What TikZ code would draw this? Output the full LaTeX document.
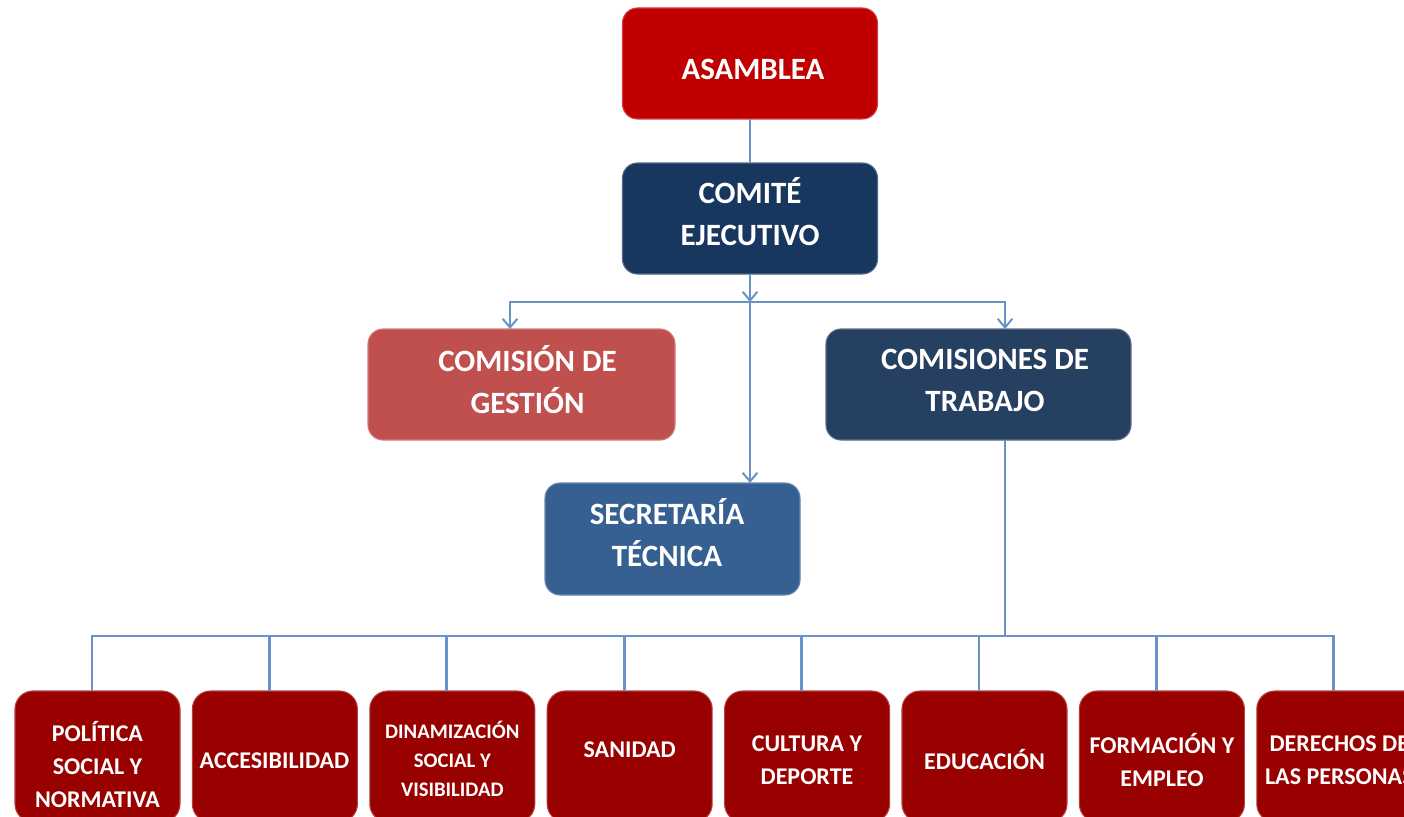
\documentclass[tikz,border=0pt]{standalone}
\usepackage{fontspec}
\setmainfont{Carlito}
\usetikzlibrary{arrows.meta,calc}
\newlength\pxu \setlength\pxu{0.75pt}
\definecolor{cAsam}{RGB}{192,0,0}
\definecolor{cComite}{RGB}{23,55,94}
\definecolor{cGest}{RGB}{192,80,77}
\definecolor{cTrab}{RGB}{37,64,97}
\definecolor{cSecre}{RGB}{54,96,146}
\definecolor{cBot}{RGB}{153,0,0}
\definecolor{cLine}{RGB}{104,146,201}
\begin{document}
\begin{tikzpicture}[x=0.75pt,y=-0.75pt,
  box/.style={rectangle, rounded corners=15\pxu, inner sep=0pt, outer sep=0pt, fill=#1, draw=#1!75!white, line width=0.8pt},
  bigbox/.style={box=#1, minimum width=255\pxu, minimum height=111\pxu},
  midbox/.style={box=#1, minimum height=111\pxu},
  botbox/.style={box=cBot, rounded corners=18\pxu, minimum width=165\pxu, minimum height=131\pxu},
  lbl/.style={text=white, align=center, inner sep=0pt, font=\bfseries\fontsize{23.25}{31.5}\selectfont},
  slbl/.style={text=white, align=center, inner sep=0pt, font=\bfseries\fontsize{18}{24.75}\selectfont},
  tlbl/.style={text=white, align=center, inner sep=0pt, font=\bfseries\fontsize{15.5}{22}\selectfont},
  conn/.style={draw=cLine, line width=2pt},
  arr/.style={conn, -{Straight Barb[length=6.5pt, width=11pt, line width=1.5pt]}}
]
\useasboundingbox (0,0) rectangle (1404,817);
\clip (0,0) rectangle (1404,817);

% top level boxes
\node[bigbox=cAsam] (asamblea) at (750,63.5) {};
\node[lbl] (tAsam) at (753,69) {ASAMBLEA};
\node[bigbox=cComite] (comite) at (750,218.5) {};
\node[lbl] (tComite) at (750,211.5) {COMITÉ\\EJECUTIVO};
\node[midbox=cGest, minimum width=307\pxu] (gestion) at (521.5,384.5) {};
\node[lbl] (tGestion) at (527.5,379.5) {COMISIÓN DE\\GESTIÓN};
\node[midbox=cTrab, minimum width=305\pxu] (trabajo) at (978.5,384.5) {};
\node[lbl] (tTrabajo) at (985,380) {COMISIONES DE\\TRABAJO};
\node[bigbox=cSecre, minimum height=112\pxu] (secre) at (672.5,539) {};
\node[lbl] (tSecre) at (667,532.5) {SECRETARÍA\\TÉCNICA};

% bottom boxes
\node[botbox] (b1) at (97.5,756.5) {};
\node[botbox] (b2) at (274.9,756.5) {};
\node[botbox] (b3) at (452.3,756.5) {};
\node[botbox] (b4) at (629.7,756.5) {};
\node[botbox] (b5) at (807.1,756.5) {};
\node[botbox] (b6) at (984.5,756.5) {};
\node[botbox] (b7) at (1161.9,756.5) {};
\node[botbox] (b8) at (1339.3,756.5) {};
\node[slbl] (t1) at (97.5,764.5) {POLÍTICA\\SOCIAL Y\\NORMATIVA};
\node[slbl] (t2) at (274.5,761) {ACCESIBILIDAD};
\node[tlbl] (t3) at (452.3,759) {DINAMIZACIÓN\\SOCIAL Y\\VISIBILIDAD};
\node[slbl] (t4) at (629.7,750) {SANIDAD};
\node[slbl] (t5) at (807,760.5) {CULTURA Y\\DEPORTE};
\node[slbl] (t6) at (984.5,760) {EDUCACIÓN};
\node[slbl] (t7) at (1162,760) {FORMACIÓN Y\\EMPLEO};
\node[slbl] (t8) at (1339.3,760.5) {DERECHOS DE\\LAS PERSONAS};

% connectors
\coordinate (j1) at (750,302);
\coordinate (j2) at (1005,636);
\draw[conn] (asamblea.south) -- (comite.north);
\draw[arr] (comite.south) -- (j1);
\draw[arr] (j1) -| ($(gestion.north)+(-11.5,0)$);
\draw[arr] (j1) -| ($(trabajo.north)+(26.5,0)$);
\draw[arr] (j1) -- (j1 |- secre.north);
\draw[conn] ($(trabajo.south)+(26.5,0)$) -- (j2);
\foreach \b in {b1,b2,b3,b4,b5,b6,b7,b8}{
  \draw[conn] (j2) -| ($(\b.north)+(-5.5,0)$);
}
\end{tikzpicture}
\end{document}
